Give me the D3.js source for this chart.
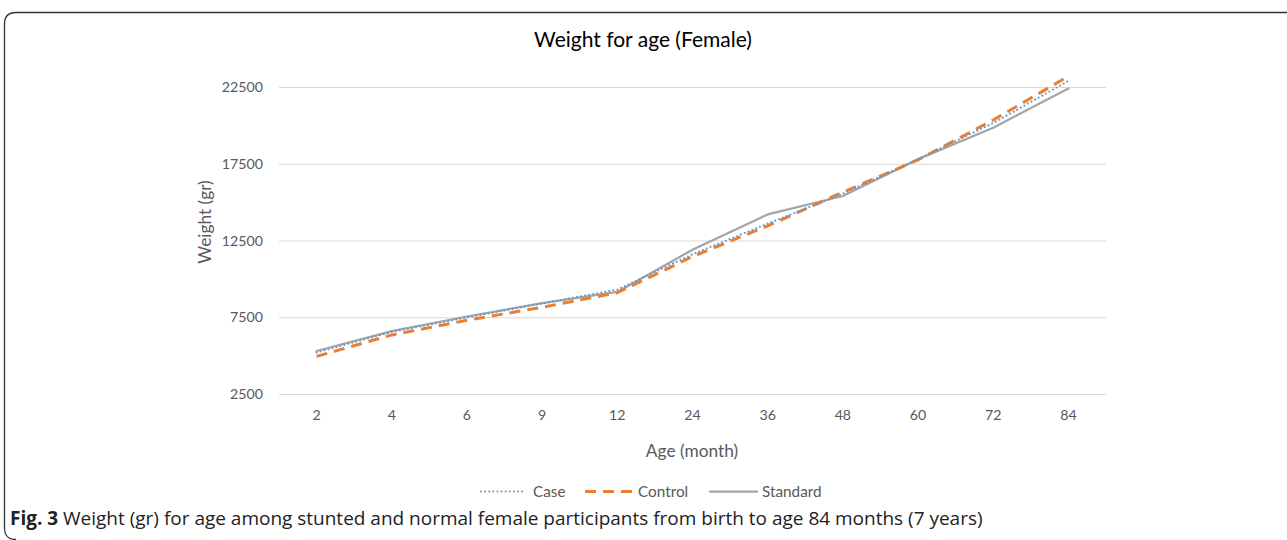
<!DOCTYPE html>
<html>
<head>
<meta charset="utf-8">
<script src="https://cdn.jsdelivr.net/npm/d3@7"></script>
<style>
  html, body { margin: 0; padding: 0; background: #fff; }
  svg { display: block; }
</style>
</head>
<body>
<svg id="chart" width="1287" height="540"></svg>
<script>
// ---- Data ----
const categories = ["2", "4", "6", "9", "12", "24", "36", "48", "60", "72", "84"];
const caseValues = [5200, 6550, 7480, 8400, 9300, 11600, 13600, 15550, 17800, 20150, 22900];
const controlValues = [4950, 6350, 7300, 8150, 9100, 11450, 13450, 15650, 17750, 20350, 23200];
const standardValues = [5300, 6600, 7550, 8420, 9150, 11900, 14200, 15400, 17800, 19850, 22400];
const yTicks = [2500, 7500, 12500, 17500, 22500];
const seriesNames = ["Case", "Control", "Standard"];

const titleText = "Weight for age (Female)";
const xTitle = "Age (month)";
const yTitle = "Weight (gr)";

// ---- Setup ----
const svg = d3.select("#chart");
const plot = { left: 279, right: 1106, top: 87, bottom: 394 };

const x = d3.scaleBand().domain(categories).range([plot.left, plot.right]);
const y = d3.scaleLinear().domain([2500, 22500]).range([plot.bottom, plot.top]);
const cx = c => x(c) + x.bandwidth() / 2;

const font = "Lato, 'Open Sans', sans-serif";
const textColor = "#595959";

// frame
svg.append("path")
  .attr("d", `M16,539.5 Q4.5,539.5 4.5,528 L4.5,24 Q4.5,12.5 16,12.5 L1287,12.5`)
  .attr("fill", "none").attr("stroke", "#333").attr("stroke-width", 1.3);

// title
svg.append("text")
  .attr("x", 643).attr("y", 47)
  .attr("text-anchor", "middle")
  .attr("font-family", font).attr("font-size", 21)
  .attr("fill", "#000")
  .text(titleText);

// gridlines via axis
const yAxis = d3.axisLeft(y).tickValues(yTicks).tickSize(-(plot.right - plot.left)).tickPadding(16)
  .tickFormat(d3.format("d"));
const gy = svg.append("g").attr("transform", `translate(${plot.left},0)`).call(yAxis);
gy.select(".domain").remove();
gy.selectAll(".tick line").attr("stroke", "#d9d9d9").attr("stroke-width", 1);
gy.selectAll(".tick text").attr("font-family", font).attr("font-size", 14.2).attr("fill", textColor);

const xAxis = d3.axisBottom(x).tickSize(0).tickPadding(16);
const gx = svg.append("g").attr("transform", `translate(0,${plot.bottom})`).call(xAxis);
gx.select(".domain").remove();
gx.selectAll(".tick text").attr("font-family", font).attr("font-size", 14.2).attr("fill", textColor);

// axis titles
svg.append("text")
  .attr("x", 692).attr("y", 457)
  .attr("text-anchor", "middle")
  .attr("font-family", font).attr("font-size", 17.3).attr("fill", textColor)
  .text(xTitle);
svg.append("text")
  .attr("transform", `translate(211,222) rotate(-90)`)
  .attr("text-anchor", "middle")
  .attr("font-family", font).attr("font-size", 17.3).attr("fill", textColor)
  .text(yTitle);

// series
const series = [
  { name: "Case", values: caseValues, color: "#5B9BD5", width: 2, dash: "0.1,4", cap: "round" },
  { name: "Control", values: controlValues, color: "#ED7D31", width: 3, dash: "11,7", cap: "butt" },
  { name: "Standard", values: standardValues, color: "#A5A5A5", width: 2.25, dash: null, cap: "round" }
];
const drawOrder = [series[2], series[1], series[0]];
const line = d3.line().x((d, i) => cx(categories[i])).y(d => y(d));
drawOrder.forEach(s => {
  svg.append("path")
    .datum(s.values)
    .attr("d", line)
    .attr("fill", "none")
    .attr("stroke", s.color)
    .attr("stroke-width", s.width)
    .attr("stroke-linejoin", "round")
    .attr("stroke-linecap", s.cap)
    .attr("stroke-dasharray", s.dash);
});

// legend
const legendY = 491.5;
const legendItems = [
  { s: series[0], x0: 481, x1: 524, tx: 533 },
  { s: series[1], x0: 585, x1: 633, tx: 638 },
  { s: series[2], x0: 710, x1: 757, tx: 762 }
];
legendItems.forEach(li => {
  svg.append("line")
    .attr("x1", li.x0).attr("x2", li.x1).attr("y1", legendY).attr("y2", legendY)
    .attr("stroke", li.s.color).attr("stroke-width", li.s.width)
    .attr("stroke-linecap", li.s.cap)
    .attr("stroke-dasharray", li.s.dash);
  svg.append("text")
    .attr("x", li.tx).attr("y", legendY + 5.5)
    .attr("font-family", font).attr("font-size", 15.3).attr("fill", textColor)
    .text(li.s.name);
});

// caption
const cap = svg.append("text")
  .attr("x", 10).attr("y", 525)
  .attr("font-family", "'Liberation Sans Narrow', 'Open Sans', sans-serif").attr("font-size", 17).attr("fill", "#222");
cap.append("tspan").attr("font-weight", "bold").text("Fig. 3");
cap.append("tspan").text(" Weight (gr) for age among stunted and normal female participants from birth to age 84 months (7 years)");
// fit caption width to reference
const target = 973;
const w = cap.node().getComputedTextLength();
if (w > 0) cap.attr("font-size", 17 * target / w);
</script>
</body>
</html>
